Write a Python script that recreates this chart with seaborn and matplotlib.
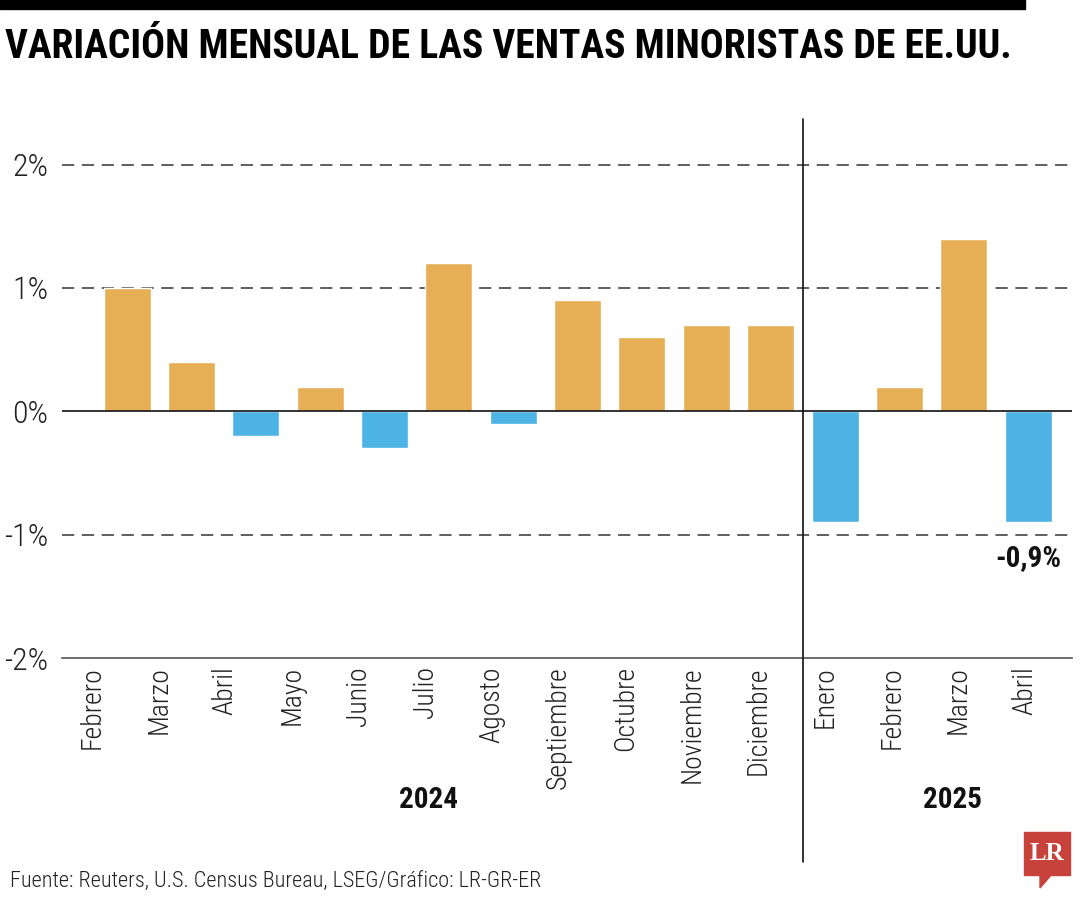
import matplotlib
matplotlib.use("Agg")
import matplotlib.pyplot as plt
import seaborn as sns
import pandas as pd
import numpy as np
from matplotlib import font_manager as fm
from matplotlib.patches import Rectangle, Polygon
from matplotlib.lines import Line2D

months = ["Febrero", "Marzo", "Abril", "Mayo", "Junio", "Julio", "Agosto",
          "Septiembre", "Octubre", "Noviembre", "Diciembre",
          "Enero", "Febrero", "Marzo", "Abril"]
years = ["2024"] * 11 + ["2025"] * 4
values = [1.0, 0.4, -0.2, 0.2, -0.3, 1.2, -0.1, 0.9, 0.6, 0.7, 0.7,
          -0.9, 0.2, 1.4, -0.9]
ytick_vals = [-2, -1, 0, 1, 2]
ytick_labels = ["-2%", "-1%", "0%", "1%", "2%"]
title = "VARIACIÓN MENSUAL DE LAS VENTAS MINORISTAS DE EE.UU."
source = "Fuente: Reuters, U.S. Census Bureau, LSEG/Gráfico: LR-GR-ER"
last_label = "-0,9%"

sns.set_style("white")

def pick(names):
    for n in names:
        try:
            fm.findfont(fm.FontProperties(family=n), fallback_to_default=False)
            return n
        except Exception:
            continue
    return "DejaVu Sans"

narrow = pick(["Roboto Condensed", "Liberation Sans Narrow", "DejaVu Sans Condensed", "Open Sans Condensed"])
plt.rcParams['font.family'] = [narrow, "DejaVu Sans"]

pos_color = "#E6AF55"
neg_color = "#4DB3E4"

df = pd.DataFrame({"idx": list(range(len(values))), "month": months,
                   "year": years, "value": values})
df["sign"] = ["pos" if v >= 0 else "neg" for v in values]

fig = plt.figure(figsize=(10.8, 9), dpi=100)
ax = fig.add_axes([62/1080, 1-658/900, (1072-62)/1080, (658-119)/900])

sns.barplot(data=df, x="idx", y="value", hue="sign",
            palette={"pos": pos_color, "neg": neg_color},
            dodge=False, width=0.73, legend=False, ax=ax, native_scale=True,
            saturation=1)

ax.set_xlim(-1.01, 14.68)
ax.set_ylim(-2, 2.37)

for v in [1, 2, -1]:
    ax.axhline(v, color="#333333", lw=1.1, ls=(0, (8, 5)), zorder=0)
ax.axhline(0, color="#111111", lw=1.2, zorder=3)

for s in ["top", "right", "left"]:
    ax.spines[s].set_visible(False)
ax.spines["bottom"].set_color("#555555")
ax.spines["bottom"].set_linewidth(1.2)

ax.set_yticks(ytick_vals)
ax.set_yticklabels(ytick_labels, fontsize=23, color="#222222", fontweight="light")
ax.tick_params(axis="y", length=0, pad=10)
# month labels are spread slightly wider than the bars in the original layout
label_pos = np.linspace(-0.544, 13.953, len(months))
ax.set_xticks(label_pos)
ax.set_xticklabels(months, rotation=90, fontsize=20, color="#222222", fontweight="light")
ax.tick_params(axis="x", length=0, pad=6)
ax.set_xlabel("")
ax.set_ylabel("")

# divider between years
div_x = 10.5
ax.add_line(Line2D([div_x, div_x], [2.37, -2], color="#111111", lw=1.2, clip_on=False))
fig.add_artist(Line2D([803/1080, 803/1080], [1-658/900, 1-862/900], color="#111111", lw=1.2))

# year labels
fig.text(428/1080, 1-800/900, "2024", ha="center", va="center", fontsize=21, fontweight="bold", color="#111111")
fig.text(953/1080, 1-800/900, "2025", ha="center", va="center", fontsize=21, fontweight="bold", color="#111111")

# annotation
ax.text(df["idx"].iloc[-1], values[-1] - 0.18, last_label, ha="center", va="top",
        fontsize=21, fontweight="bold", color="#111111")

# top bar & title
fig.add_artist(Rectangle((0, 1-9/900), 1025/1080, 9/900, color="#000000", transform=fig.transFigure))
fig.text(5/1080, 1-47/900, title, ha="left", va="center", fontsize=28.5, fontweight="bold", color="#000000")

# source
fig.text(10/1080, 1-882/900, source, ha="left", va="center", fontsize=16, color="#222222", fontweight="light")

# LR logo
fig.add_artist(Rectangle((1024/1080, 1-875/900), 46/1080, 43/900, color="#C8423C", transform=fig.transFigure))
fig.add_artist(Polygon([(1040/1080, 1-874/900), (1052/1080, 1-874/900), (1040/1080, 1-888/900)],
                       closed=True, color="#C8423C", transform=fig.transFigure))
fig.text(1047/1080, 1-853/900, "LR", ha="center", va="center", fontsize=18, fontweight="bold",
         color="white", family=["Liberation Serif", "DejaVu Serif"])

fig.savefig("out.png", dpi=100)
